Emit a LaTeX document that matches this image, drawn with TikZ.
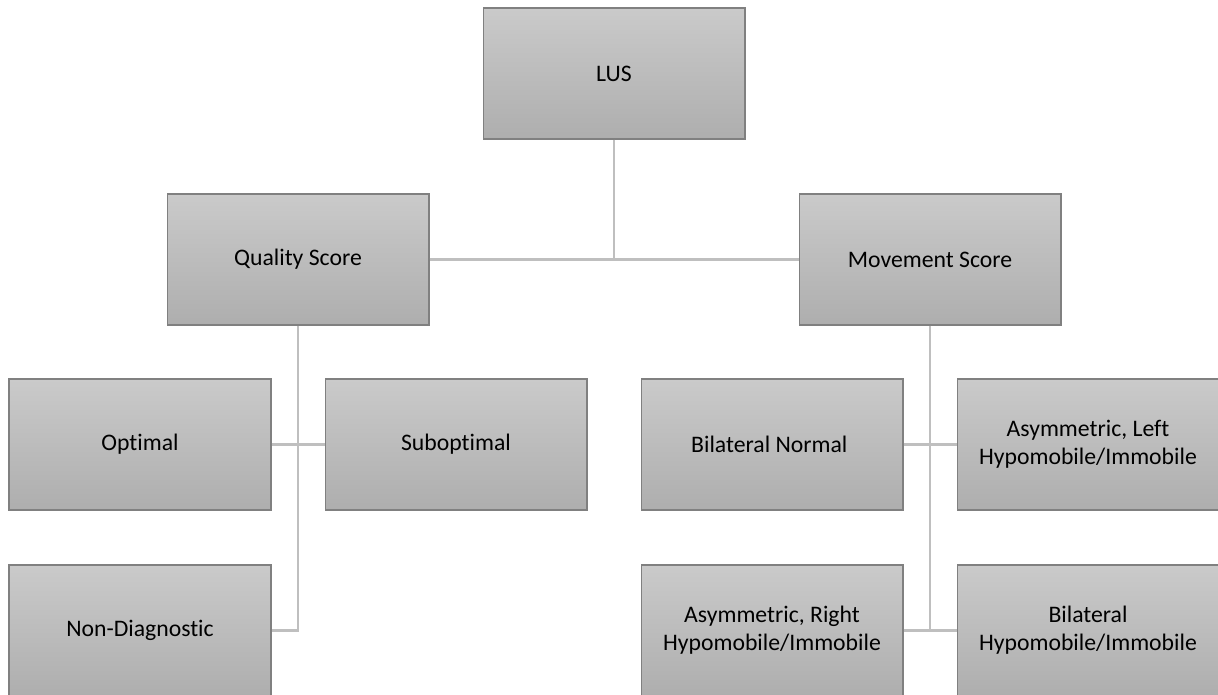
\documentclass[tikz,border=0pt]{standalone}
\usepackage{fontspec}
\setmainfont[Ligatures=NoCommon]{Carlito}
\usepackage{tikz}
\usepackage{xcolor}
\definecolor{boxtop}{HTML}{CACACA}
\definecolor{boxbot}{HTML}{AEAEAE}
\definecolor{boxline}{HTML}{808080}
\definecolor{linkline}{HTML}{BFBFBF}
\tikzset{
    scorebox/.style={draw=boxline, line width=0.6pt, top color=boxtop, bottom color=boxbot,
        minimum width=5.24cm, minimum height=2.62cm, inner sep=2pt, align=center,
        font=\fontsize{13.5}{16}\selectfont},
    link/.style={draw=linkline, line width=1.2pt}
}

\begin{document}
\begin{tikzpicture}[x=0.02cm, y=-0.02cm]
\useasboundingbox (0,0) rectangle (1218,695);
% top of the tree
\node[scorebox] (lus) at (614,73.5) {LUS};
\node[scorebox] (qual) at (298,259.5) {Quality Score};
\node[scorebox] (move) at (930,259.5) {Movement Score};
% one-line leaves
\foreach \nm/\x/\y/\txt in {
    opt/140/444.5/Optimal,
    subopt/456/444.5/Suboptimal,
    nondiag/140/630.5/Non-Diagnostic,
    binorm/772/444.5/Bilateral Normal
}{
    \node[scorebox] (\nm) at (\x,\y) {\txt};
}
% two-line leaves
\node[scorebox] (asyml) at (1088,444.5) {Asymmetric, Left\\Hypomobile/Immobile};
\node[scorebox] (asymr) at (772,630.5) {Asymmetric, Right\\Hypomobile/Immobile};
\node[scorebox] (bihypo) at (1088,630.5) {Bilateral\\Hypomobile/Immobile};
\draw[link] (qual.east) -- (move.west);
\draw[link] (lus.south) -- (lus.south |- qual.east);
\draw[link] (qual.south) -- (qual.south |- nondiag.east) -- (nondiag.east);
\draw[link] (opt.east) -- (subopt.west);
\draw[link] (move.south) -- (move.south |- asymr.east);
\draw[link] (binorm.east) -- (asyml.west);
\draw[link] (asymr.east) -- (bihypo.west);
\end{tikzpicture}
\end{document}
